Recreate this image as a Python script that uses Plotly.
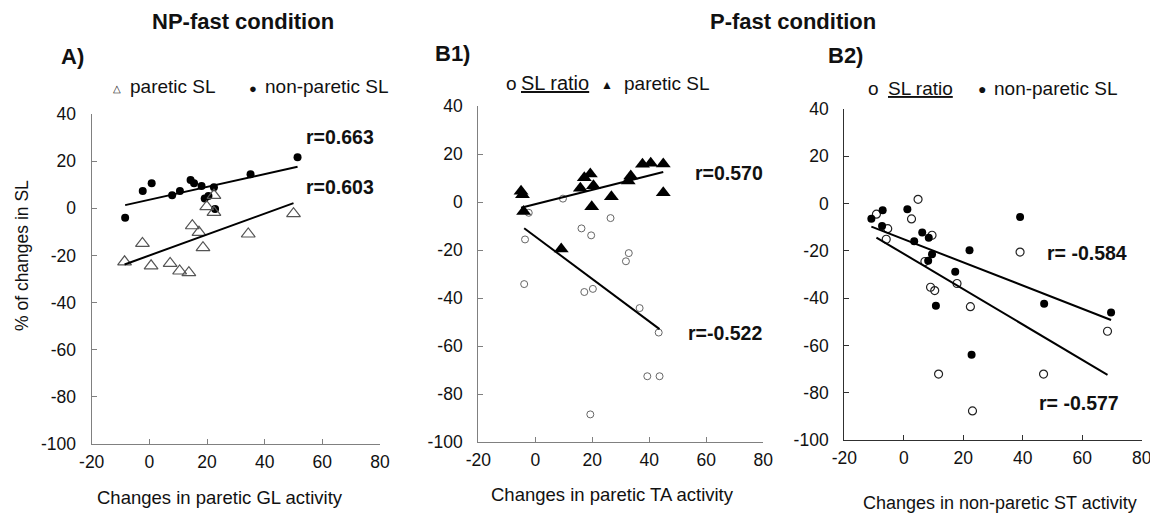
import numpy as np
import plotly.graph_objects as go

# The page body has an 8px margin, so the figure is drawn 8px smaller and all
# reference pixel positions are shifted by that offset.
OFF = 8
W, H = 1158 - OFF, 518 - OFF

# ---------------- data ----------------
# Panel A: NP-fast, changes in paretic GL activity
A_np_x = [-8.4, -2.3, 0.8, 7.9, 10.6, 14.3, 15.5, 18.1, 22.4, 19.2, 20.5, 22.8, 35.1, 51.4]
A_np_y = [-4.0, 7.3, 10.6, 5.5, 7.3, 12.0, 10.6, 9.5, 8.9, 4.2, 5.2, -0.3, 14.4, 21.7]
A_p_x = [-8.6, -2.4, 0.6, 7.2, 10.5, 13.7, 14.9, 17.2, 18.6, 22.4, 19.9, 22.4, 34.3, 50.0]
A_p_y = [-22.7, -14.9, -24.4, -23.4, -26.6, -27.3, -7.4, -10.2, -16.7, 5.5, 0.7, -1.7, -10.9, -2.3]

# Panel B1: P-fast, changes in paretic TA activity
B1_p_x = [-5.0, -4.5, -4.1, 9.1, 15.8, 17.2, 19.3, 20.4, 19.8, 26.7, 32.6, 33.5, 37.6, 40.5, 44.9, 44.9]
B1_p_y = [4.5, 3.0, -4.0, -19.6, 5.7, 10.1, 11.7, 6.8, -2.0, 2.2, 8.7, 10.8, 15.7, 16.1, 15.8, 3.9]
B1_r_x = [-2.3, -3.6, -3.9, 9.7, 16.2, 19.6, 17.2, 20.2, 26.4, 31.8, 32.8, 36.6, 43.3, 39.3, 43.6, 19.3]
B1_r_y = [-4.5, -15.6, -34.2, 1.4, -11.0, -13.9, -37.5, -36.2, -6.7, -24.7, -21.3, -44.2, -54.4, -72.6, -72.6, -88.5]

# Panel B2: P-fast, changes in non-paretic ST activity
B2_np_x = [-10.9, -7.1, -7.3, 1.2, 6.2, 3.5, 8.4, 9.5, 8.2, 10.8, 17.3, 22.1, 22.8, 39.1, 47.2, 69.7]
B2_np_y = [-6.4, -2.8, -9.5, -2.4, -12.2, -15.9, -14.5, -21.4, -24.2, -43.2, -28.8, -19.7, -63.9, -5.7, -42.4, -46.1]
B2_r_x = [-9.2, 4.8, 2.6, -5.4, -5.9, 9.5, 7.1, 9.0, 10.4, 17.9, 22.4, 11.7, 23.1, 39.1, 47.0, 68.5]
B2_r_y = [-4.5, 1.8, -6.5, -10.6, -15.1, -13.4, -24.5, -35.4, -36.8, -33.8, -43.6, -72.1, -87.7, -20.5, -72.1, -54.0]

x_ticks = [-20, 0, 20, 40, 60, 80]
x_tick_labels = ["-20", "0", "20", "40", "60", "80"]
y_ticks = [40, 20, 0, -20, -40, -60, -80, -100]
y_tick_labels = ["40", "20", "0", "-20", "-40", "-60", "-80", "-100"]

FONT = "Liberation Sans, Arial, sans-serif"


def px(x):
    return (x - OFF) / W


def py(y):
    return 1 - (y - OFF) / H


def fit_line(x, y):
    x = np.asarray(x, float)
    y = np.asarray(y, float)
    m, b = np.polyfit(x, y, 1)
    xs = np.array([x.min(), x.max()])
    return xs, m * xs + b


fig = go.Figure()


def add_panel(idx, series):
    xa = "x" if idx == 1 else f"x{idx}"
    ya = "y" if idx == 1 else f"y{idx}"
    for s in series:
        fig.add_trace(go.Scatter(x=s["x"], y=s["y"], mode="markers", xaxis=xa, yaxis=ya,
                                 marker=s["marker"], showlegend=False, hoverinfo="x+y"))
        lx, ly = fit_line(s["x"], s["y"])
        fig.add_trace(go.Scatter(x=lx, y=ly, mode="lines", xaxis=xa, yaxis=ya,
                                 line=dict(color="black", width=2), showlegend=False,
                                 hoverinfo="skip"))


open_tri = dict(symbol="triangle-up-open", size=12, color="#555555", line=dict(width=1.2, color="#555555"))
dot = dict(symbol="circle", size=8, color="black")
open_circ_gray = dict(symbol="circle-open", size=7, color="#666666", line=dict(width=1, color="#666666"))
fill_tri = dict(symbol="triangle-up", size=13, color="black")
open_circ_blk = dict(symbol="circle-open", size=8, color="#222222", line=dict(width=1.2, color="#222222"))

add_panel(1, [dict(x=A_np_x, y=A_np_y, marker=dot), dict(x=A_p_x, y=A_p_y, marker=open_tri)])
add_panel(2, [dict(x=B1_r_x, y=B1_r_y, marker=open_circ_gray), dict(x=B1_p_x, y=B1_p_y, marker=fill_tri)])
add_panel(3, [dict(x=B2_r_x, y=B2_r_y, marker=open_circ_blk), dict(x=B2_np_x, y=B2_np_y, marker=dot)])

# axis geometry in reference pixels (left, right, top, bottom)
geo = {
    1: (91.7, 380.0, 114.0, 444.0),
    2: (478.3, 763.3, 106.0, 442.0),
    3: (844.3, 1141.7, 109.0, 440.0),
}
axcol = {1: "#808080", 2: "#808080", 3: "#303030"}
TICKF = dict(size=17.5, family=FONT, color="#111111")

layout = dict(width=W, height=H, margin=dict(l=0, r=0, t=0, b=0, pad=0, autoexpand=False),
              paper_bgcolor="white", plot_bgcolor="white", showlegend=False,
              font=dict(family=FONT, size=16, color="#111111"))
for i, (l, r, t, b) in geo.items():
    xk = "xaxis" if i == 1 else f"xaxis{i}"
    yk = "yaxis" if i == 1 else f"yaxis{i}"
    xa_anchor = "y" if i == 1 else f"y{i}"
    ya_anchor = "x" if i == 1 else f"x{i}"
    layout[xk] = dict(domain=[px(l), px(r)], anchor=xa_anchor, range=[-20, 80],
                      tickvals=x_ticks, ticktext=x_tick_labels, ticks="inside", ticklen=5,
                      tickcolor=axcol[i], automargin=False, ticklabelstandoff=2,
                      showline=True, linecolor=axcol[i], linewidth=1.3, showgrid=False,
                      zeroline=False, tickfont=TICKF)
    layout[yk] = dict(domain=[py(b), py(t)], anchor=ya_anchor, range=[-100, 40],
                      tickvals=y_ticks, ticktext=y_tick_labels, ticks="inside", ticklen=5,
                      tickcolor=axcol[i], automargin=False, ticklabelstandoff=11,
                      showline=True, linecolor=axcol[i], linewidth=1.3, showgrid=False,
                      zeroline=False, tickfont=TICKF)
fig.update_layout(**layout)


def ann(text, x, y, size=17, bold=False, xanchor="center", textangle=0):
    if bold:
        text = f"<b>{text}</b>"
    fig.add_annotation(text=text, x=px(x), y=py(y), xref="paper", yref="paper",
                       showarrow=False, xanchor=xanchor, yanchor="middle", borderpad=0,
                       font=dict(size=size, family=FONT, color="#111111"), textangle=textangle)


# titles
ann("NP-fast condition", 243, 21, size=22, bold=True)
ann("P-fast condition", 793, 21, size=22, bold=True)
ann("A)", 72, 57, size=22, bold=True)
ann("B1)", 452, 53, size=22, bold=True)
ann("B2)", 845, 55, size=22, bold=True)

# legends (symbol + label pieces)
LEG = 19
ann("△", 116.7, 88, size=10)
ann("paretic SL", 129, 86, size=LEG, xanchor="left")
ann("●", 253, 88, size=13)
ann("non-paretic SL", 264, 86, size=LEG, xanchor="left")

ann("o", 511.7, 83, size=LEG)
ann("<u>SL ratio</u>", 520, 83, size=LEG + 1, xanchor="left")
ann("▲", 606.7, 85, size=12)
ann("paretic SL", 623, 83, size=LEG, xanchor="left")

ann("o", 873, 88, size=LEG)
ann("<u>SL ratio</u>", 887, 88, size=LEG, xanchor="left")
ann("●", 982, 89, size=14)
ann("non-paretic SL", 993, 88, size=LEG, xanchor="left")

# r values
RS = 19.5
ann("r=0.663", 340, 137, size=RS, bold=True)
ann("r=0.603", 340, 187, size=RS, bold=True)
ann("r=0.570", 729, 173, size=RS, bold=True)
ann("r=-0.522", 725, 333, size=RS, bold=True)
ann("r= -0.584", 1087, 253, size=RS, bold=True)
ann("r= -0.577", 1079, 403, size=RS, bold=True)

# axis titles
ann("Changes in paretic GL activity", 220, 497, size=18.5)
ann("Changes in paretic TA activity", 612, 494, size=18.5)
ann("Changes in non-paretic ST activity", 1000, 503, size=18)
ann("% of changes in SL", 22, 256, size=17.5, textangle=-90)

fig.write_html("out.html")
